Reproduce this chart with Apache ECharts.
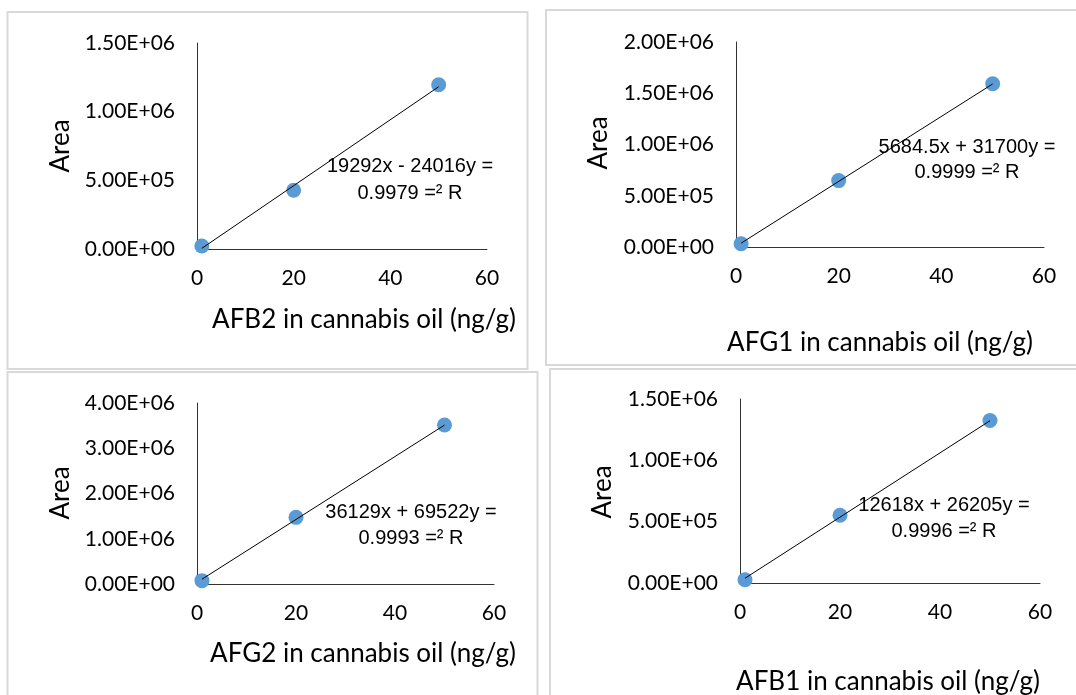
<!DOCTYPE html>
<html>
<head>
<meta charset="utf-8">
<script src="https://cdn.jsdelivr.net/npm/echarts@6/dist/echarts.min.js"></script>
<style>
    html, body { margin: 0; padding: 0; background: #fff; }
    #main { width: 1076px; height: 695px; }
</style>
</head>
<body>
<div id="main"></div>
<script>
// concentration (ng/g) of the three spiked levels
var xValues = [1, 20, 50];
// peak areas
var afb2Area = [22000, 428000, 1196000];
var afg1Area = [32000, 648000, 1592000];
var afg2Area = [74000, 1473000, 3514000];
var afb1Area = [27000, 552000, 1325000];
// trendline y = slope * x + intercept
var slopes = [24016, 31700, 69522, 26205];
var intercepts = [-19292, 5684.5, 36129, 12618];
// axes
var xMin = 0, xMax = 60, xStep = 20;
var yMax = [1.5e6, 2e6, 4e6, 1.5e6];
var yStep = [5e5, 5e5, 1e6, 5e5];
var xTitles = ["AFB2 in cannabis oil (ng/g)", "AFG1 in cannabis oil (ng/g)", "AFG2 in cannabis oil (ng/g)", "AFB1 in cannabis oil (ng/g)"];
var yTitle = "Area";
var eqLines = [
    ["19292x - 24016y =", "0.9979 =\u00b2 R"],
    ["5684.5x + 31700y =", "0.9999 =\u00b2 R"],
    ["36129x + 69522y =", "0.9993 =\u00b2 R"],
    ["12618x + 26205y =", "0.9996 =\u00b2 R"]
];

var areas = [afb2Area, afg1Area, afg2Area, afb1Area];

// panel layout (pixels)
var panels = [
    { box: [7.5, 12, 520, 357], grid: [197, 43, 290, 206], yLab: 61, yLabY: 146, xLabX: 364, xLabY: 320, eq: [410, 166, 193] },
    { box: [546, 10, 540, 355], grid: [736, 42, 308, 205], yLab: 599, yLabY: 143, xLabX: 880, xLabY: 343, eq: [967, 147, 172] },
    { box: [7.5, 372, 530, 340], grid: [197, 403, 297, 181], yLab: 61, yLabY: 493, xLabX: 363, xLabY: 654, eq: [411, 512, 538] },
    { box: [550, 369, 540, 340], grid: [740, 399, 300, 184], yLab: 603, yLabY: 492, xLabX: 888, xLabY: 682, eq: [944, 505, 531] }
];

function sciFormat(v) {
    var s = Number(v).toExponential(2).split("e");
    var exp = parseInt(s[1], 10);
    var sign = exp < 0 ? "-" : "+";
    var e = Math.abs(exp);
    return s[0] + "E" + sign + (e < 10 ? "0" + e : e);
}

var axisLine = { show: true, lineStyle: { color: "#333", width: 1 } };
var labelFont = { color: "#000", fontFamily: "Lato", fontSize: 21 };

var grids = [], xAxes = [], yAxes = [], series = [], graphics = [];

for (var i = 0; i < panels.length; i++) {
    var p = panels[i];
    grids.push({ left: p.grid[0], top: p.grid[1], width: p.grid[2], height: p.grid[3], containLabel: false });
    xAxes.push({
        gridIndex: i, type: "value", min: xMin, max: xMax, interval: xStep,
        axisLine: axisLine, axisTick: { show: false }, splitLine: { show: false },
        axisLabel: Object.assign({ margin: 19 }, labelFont)
    });
    yAxes.push({
        gridIndex: i, type: "value", min: 0, max: yMax[i], interval: yStep[i],
        axisLine: axisLine, axisTick: { show: false }, splitLine: { show: false },
        axisLabel: Object.assign({ margin: 22, formatter: sciFormat }, labelFont)
    });

    var pts = [];
    for (var j = 0; j < xValues.length; j++) {
        pts.push([xValues[j], areas[i][j]]);
    }
    var x0 = xValues[0], x1 = xValues[xValues.length - 1];
    series.push({
        type: "scatter", xAxisIndex: i, yAxisIndex: i,
        symbolSize: 15, itemStyle: { color: "#5b9bd5", opacity: 1 },
        data: pts, z: 2
    });
    series.push({
        type: "line", xAxisIndex: i, yAxisIndex: i,
        symbol: "none", lineStyle: { color: "#000", width: 1 },
        data: [[x0, slopes[i] * x0 + intercepts[i]], [x1, slopes[i] * x1 + intercepts[i]]],
        z: 3, silent: true
    });

    // panel frame
    graphics.push({
        type: "rect", z: -1,
        shape: { x: p.box[0], y: p.box[1], width: p.box[2], height: p.box[3] },
        style: { fill: "none", stroke: "#d9d9d9", lineWidth: 2 }
    });
    // axis titles
    graphics.push({
        type: "text", x: p.yLab, y: p.yLabY, rotation: Math.PI / 2,
        style: { text: yTitle, fontFamily: "Lato", fontSize: 26, fill: "#000", align: "center", verticalAlign: "middle" }
    });
    graphics.push({
        type: "text", x: p.xLabX, y: p.xLabY,
        style: { text: xTitles[i], fontFamily: "Lato", fontSize: 26, fill: "#000", align: "center", verticalAlign: "middle" }
    });
    // trendline equation
    graphics.push({
        type: "text", x: p.eq[0], y: p.eq[1], z: 10,
        style: { text: eqLines[i][0], fontFamily: "Liberation Sans", fontSize: 20, fill: "#000", align: "center", verticalAlign: "middle" }
    });
    graphics.push({
        type: "text", x: p.eq[0], y: p.eq[2], z: 10,
        style: { text: eqLines[i][1], fontFamily: "Liberation Sans", fontSize: 20, fill: "#000", align: "center", verticalAlign: "middle" }
    });
}

var chart = echarts.init(document.getElementById("main"));
chart.setOption({
    animation: false,
    backgroundColor: "#fff",
    grid: grids,
    xAxis: xAxes,
    yAxis: yAxes,
    series: series,
    graphic: graphics
});
window.onresize = function () {
    chart.resize();
};
</script>
</body>
</html>
